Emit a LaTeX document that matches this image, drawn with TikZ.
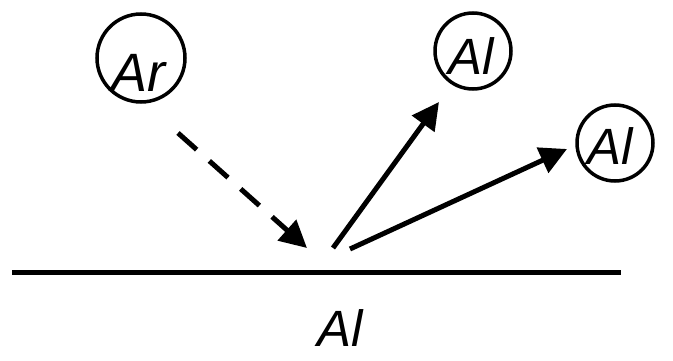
\documentclass[tikz,border=0pt]{standalone}
\usepackage{fontspec}
\newfontfamily\atomfont{Liberation Sans}
\usetikzlibrary{arrows.meta}

\begin{document}
\begin{tikzpicture}[x=1pt, y=-1pt, font=\atomfont\itshape\fontsize{51}{60}\selectfont, atom/.style={draw, circle, line width=3.5pt, inner sep=0pt}, ar/.style={-{Triangle[length=27pt, width=27pt]}, line width=5pt}]
\useasboundingbox (0,0) rectangle (673,361);
\node[atom, minimum size=88pt] (c0) at (141,58) {};
\node[atom, minimum size=76pt] (c1) at (473,51) {};
\node[atom, minimum size=76pt] (c2) at (615,143) {};
\node[font=\atomfont\itshape\fontsize{54}{60}\selectfont] (t0) at (138,73) {Ar};
\node (t1) at (471,56) {Al};
\node (t2) at (610,146) {Al};
\node (t3) at (340,328) {Al};
\coordinate (s0) at (178,133); \coordinate (e0) at (307,248);
\coordinate (s1) at (333,248); \coordinate (e1) at (439,102);
\coordinate (s2) at (350,249); \coordinate (e2) at (567,149);
\coordinate (l0) at (12,272); \coordinate (l1) at (621,272);
\draw[ar, dash pattern=on 25pt off 17pt] (s0) -- (e0);
\draw[ar] (s1) -- (e1); \draw[ar] (s2) -- (e2);
\draw[line width=5pt] (l0) -- (l1);
\end{tikzpicture}
\end{document}
